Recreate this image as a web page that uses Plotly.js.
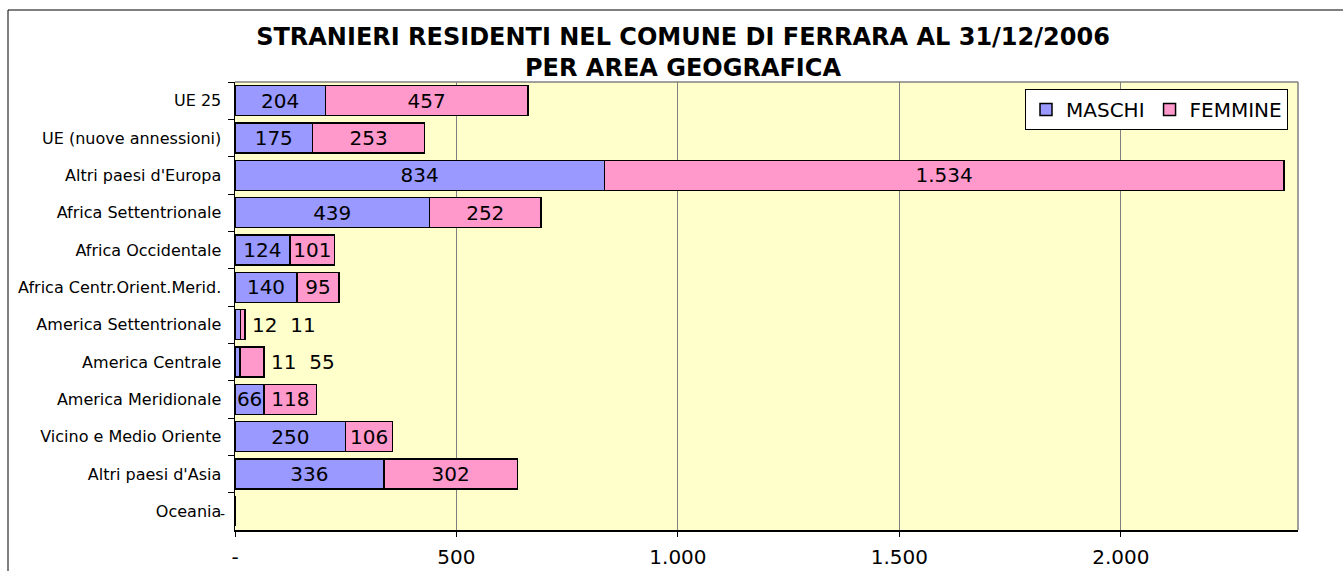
<!DOCTYPE html>
<html>
<head>
<meta charset="utf-8">
<script src="https://cdn.plot.ly/plotly-3.0.1.min.js"></script>
<style>
html,body{margin:0;padding:0;background:#fff;}
#chart{width:1343px;height:571px;}
</style>
</head>
<body>
<div id="chart"></div>
<script>
var categories = ["UE 25","UE (nuove annessioni)","Altri paesi d'Europa","Africa Settentrionale","Africa Occidentale","Africa Centr.Orient.Merid.","America Settentrionale","America Centrale","America Meridionale","Vicino e Medio Oriente","Altri paesi d'Asia","Oceania"];
var maschi  = [204,175,834,439,124,140,12,11,66,250,336,0];
var femmine = [457,253,1534,252,101,95,11,55,118,106,302,0];
var tickValues = [0,500,1000,1500,2000];
var tickLabels = ["-","500","1.000","1.500","2.000"];
var seriesNames = ["MASCHI","FEMMINE"];

function fmt(v){
  if(v === 0) return "-";
  var s = String(Math.round(v));
  return s.replace(/\B(?=(\d{3})+(?!\d))/g, ".");
}
var SMALL = 50;
function inside(i){ return maschi[i] >= SMALL; }

var textM = maschi.map(function(v,i){ return (inside(i) && v>0) ? fmt(v) : ""; });
var textF = femmine.map(function(v,i){ return (inside(i) && v>0) ? fmt(v) : ""; });

var FONT = "DejaVu Sans, Verdana, sans-serif";
var common = {
  type:"bar", orientation:"h", y:categories,
  textposition:"inside", insidetextanchor:"middle", textangle:0,
  constraintext:"none", cliponaxis:false,
  insidetextfont:{family:FONT,size:20,color:"#000"},
  hoverinfo:"x+name"
};
var tM = Object.assign({}, common, {
  name:seriesNames[0], x:maschi, text:textM,
  marker:{color:"#9999FF", line:{color:"#000", width:1.5}}
});
var tF = Object.assign({}, common, {
  name:seriesNames[1], x:femmine, text:textF,
  marker:{color:"#FF99CC", line:{color:"#000", width:1.5}}
});

var annotations = [];
categories.forEach(function(c,i){
  var tot = maschi[i]+femmine[i];
  if(!inside(i) && tot>0){
    annotations.push({
      x:tot, y:c, xref:"x", yref:"y",
      text: fmt(maschi[i]) + "\u00a0\u00a0" + fmt(femmine[i]),
      showarrow:false, xanchor:"left", xshift:5,
      font:{family:FONT,size:20,color:"#000"}
    });
  } else if(tot === 0){
    annotations.push({
      x:tot, y:c, xref:"x", yref:"y",
      text: fmt(tot), showarrow:false, xanchor:"right", xshift:-8, yshift:-3,
      font:{family:FONT,size:14,color:"#000"}
    });
  }
});

var L=235, R=45, T=82, B=41, W=1343, H=571;
var pw = W-L-R, ph = H-T-B;
function px(x){ return (x-L)/pw; }
function py(y){ return (H-B-y)/ph; }

var layout = {
  width:W, height:H,
  margin:{l:L, r:R, t:T, b:B, pad:0},
  paper_bgcolor:"#fff", plot_bgcolor:"#FFFFCC",
  barmode:"stack", bargap:0.2,
  font:{family:FONT, color:"#000"},
  title:{
    text:"STRANIERI RESIDENTI NEL COMUNE DI FERRARA AL 31/12/2006<br>PER AREA GEOGRAFICA",
    font:{family:"DejaVu Sans, Verdana, sans-serif", size:24, color:"#000", weight:"bold"},
    x:683/W, xanchor:"center", xref:"container",
    y:1-45/H, yanchor:"middle", yref:"container"
  },
  xaxis:{
    range:[0,2400], tickvals:tickValues, ticktext:tickLabels,
    showgrid:true, gridcolor:"#808080", gridwidth:1,
    zeroline:false, showline:true, linecolor:"#000", linewidth:1.5,
    ticks:"outside", ticklen:5, tickcolor:"#000", ticklabelstandoff:3,
    tickfont:{family:FONT,size:20,color:"#000"}, fixedrange:true
  },
  yaxis:{
    type:"category", autorange:"reversed",
    tickson:"boundaries", ticks:"outside", ticklen:6, tickcolor:"#000",
    showgrid:false, zeroline:false, showline:true, linecolor:"#000", linewidth:1.5,
    ticklabelstandoff:9,
    tickfont:{family:FONT,size:16,color:"#000"}, fixedrange:true
  },
  showlegend:true,
  legend:{
    orientation:"h", x:px(1025), y:py(89), xanchor:"left", yanchor:"top",
    bgcolor:"#fff", bordercolor:"#000", borderwidth:1,
    font:{family:FONT,size:20,color:"#000"},
    traceorder:"normal", itemclick:false, itemdoubleclick:false
  },
  annotations:annotations,
  shapes:[
    {type:"line", xref:"paper", yref:"paper", x0:0, x1:1, y0:1, y1:1, line:{color:"#808080", width:1.5}},
    {type:"line", xref:"paper", yref:"paper", x0:1, x1:1, y0:0, y1:1, line:{color:"#808080", width:1.5}},
    {type:"rect", xref:"paper", yref:"paper", x0:px(8), x1:px(1360), y0:py(585), y1:py(10), line:{color:"#000", width:1}, fillcolor:"rgba(0,0,0,0)", layer:"above"}
  ]
};

Plotly.newPlot("chart", [tM, tF], layout, {displayModeBar:false, staticPlot:true});
</script>
</body>
</html>
